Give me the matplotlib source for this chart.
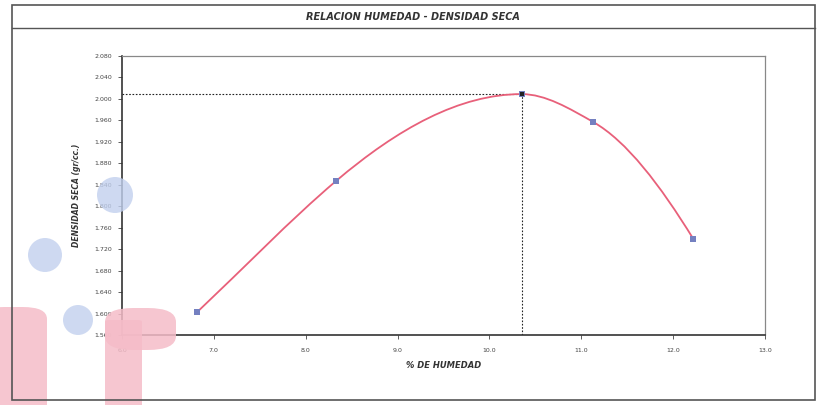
import numpy as np
import matplotlib.pyplot as plt
from matplotlib.path import Path
from matplotlib.patches import PathPatch, Rectangle, Ellipse, FancyBboxPatch

# --- DATOS ---
humedad = [6.82, 8.33, 10.35, 11.13, 12.22]
densidad = [1.603, 1.847, 2.009, 1.957, 1.739]
hum_opt = 10.35
dens_max = 2.009

x_ticks = [6.0, 7.0, 8.0, 9.0, 10.0, 11.0, 12.0, 13.0]
y_ticks = [1.560, 1.600, 1.640, 1.680, 1.720, 1.760, 1.800, 1.840,
           1.880, 1.920, 1.960, 2.000, 2.040, 2.080]

W, H = 825, 405
PINK = '#f5bcc8'
fig = plt.figure(figsize=(W / 100, H / 100), dpi=100)


def fig_box(x0, y0, x1, y1, r):
    # caja redondeada en pixeles (y desde arriba)
    return FancyBboxPatch((x0 / W, 1 - y1 / H), (x1 - x0) / W, (y1 - y0) / H, transform=fig.transFigure,
                          boxstyle=f'round,pad=0,rounding_size={r / H}', color=PINK,
                          alpha=0.85, zorder=0, linewidth=0)


# marcas de agua del escaneo (fondo)
for cx, cy, r in [(115, 195, 18), (45, 255, 17), (78, 320, 15)]:
    fig.patches.append(Ellipse((cx / W, 1 - cy / H), 2 * r / W, 2 * r / H, transform=fig.transFigure,
                               color='#c2d0ee', alpha=0.8, zorder=0, linewidth=0))
fig.patches.append(fig_box(-20, 307, 47, 430, 12))
fig.patches.append(fig_box(105, 308, 176, 350, 14))
fig.patches.append(fig_box(105, 320, 142, 430, 2))

# marco exterior y cabecera
fig.patches.append(Rectangle((12 / W, 5 / H), 803 / W, 395 / H, transform=fig.transFigure,
                             fill=False, edgecolor='#555555', linewidth=1.2))
fig.lines.append(plt.Line2D([12 / W, 815 / W], [1 - 28 / H, 1 - 28 / H], transform=fig.transFigure,
                            color='#555555', linewidth=1.0))
fig.text(413 / W, 1 - 17 / H, 'RELACION HUMEDAD - DENSIDAD SECA', ha='center', va='center',
         fontsize=7, fontstyle='italic', fontweight='bold', color='#333333')

ax = fig.add_axes([122 / W, 70 / H, 643 / W, 279 / H])
ax.patch.set_alpha(0)

# curva suavizada: hermite (tangentes tipo pchip) dibujado como bezier
px = np.array(humedad)
py = np.array(densidad)
h = np.diff(px)
d = np.diff(py) / h
n = len(px)
m = np.zeros(n)
for k in range(1, n - 1):
    if d[k - 1] * d[k] > 0:
        w1 = 2 * h[k] + h[k - 1]
        w2 = h[k] + 2 * h[k - 1]
        m[k] = (w1 + w2) / (w1 / d[k - 1] + w2 / d[k])
# primer tramo casi recto, como en el original
m[0] = d[0]
m[1] = 0.9 * d[0]
m[-1] = ((2 * h[-1] + h[-2]) * d[-1] - h[-1] * d[-2]) / (h[-1] + h[-2])
if np.sign(m[-1]) != np.sign(d[-1]):
    m[-1] = 0

verts = [(px[0], py[0])]
codes = [Path.MOVETO]
for k in range(n - 1):
    verts += [(px[k] + h[k] / 3, py[k] + m[k] * h[k] / 3),
              (px[k + 1] - h[k] / 3, py[k + 1] - m[k + 1] * h[k] / 3),
              (px[k + 1], py[k + 1])]
    codes += [Path.CURVE4] * 3
ax.add_patch(PathPatch(Path(verts, codes), fill=False, edgecolor='#e8607a', linewidth=1.3, zorder=3))

ax.scatter(humedad, densidad, s=16, marker='s', color='#7480c0', zorder=4, linewidths=0)
ax.scatter([hum_opt], [dens_max], s=12, marker='s', color='#222222', zorder=5, linewidths=0)

# lineas punteadas al optimo
ax.plot([6.0, hum_opt], [dens_max, dens_max], color='#222222', linestyle=(0, (1.5, 1.5)), linewidth=0.8, zorder=2)
ax.plot([hum_opt, hum_opt], [1.56, dens_max], color='#222222', linestyle=(0, (1.5, 1.5)), linewidth=0.8, zorder=2)

ax.set_xlim(6.0, 13.0)
ax.set_ylim(1.56, 2.08)
ax.set_xticks(x_ticks)
ax.set_xticklabels([f'{v:.1f}' for v in x_ticks])
ax.set_yticks(y_ticks)
ax.set_yticklabels([f'{v:.3f}' for v in y_ticks])
ax.tick_params(axis='both', labelsize=4.5, colors='#444444', length=3, width=0.6, pad=4)
ax.tick_params(axis='x', pad=6)

for side in ['left', 'bottom']:
    ax.spines[side].set_color('#333333')
    ax.spines[side].set_linewidth(1.2)
for side in ['top', 'right']:
    ax.spines[side].set_color('#888888')
    ax.spines[side].set_linewidth(0.9)

ax.set_xlabel('% DE HUMEDAD', fontsize=6, fontstyle='italic', fontweight='bold', color='#333333', labelpad=6)
ax.set_ylabel('DENSIDAD SECA (gr/cc.)', fontsize=5.5, fontstyle='italic', fontweight='bold',
              color='#333333', labelpad=10)

fig.savefig('out.png', dpi=100)
